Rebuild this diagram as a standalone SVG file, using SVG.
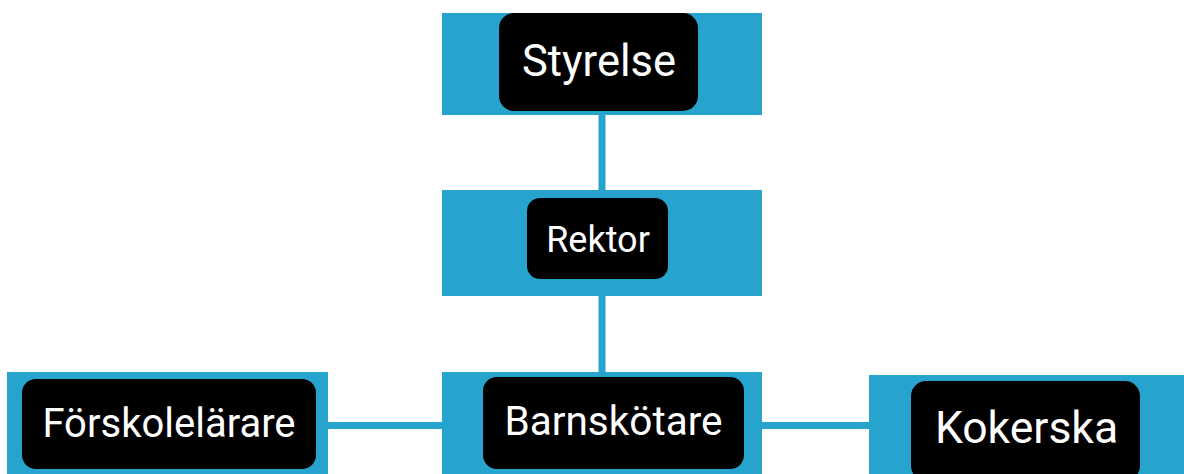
<svg xmlns="http://www.w3.org/2000/svg" width="1184" height="474" viewBox="0 0 1184 474">
<style>
.bg{fill:#27a4cd}
.lbl{fill:#000}
.t{fill:#fff;font-family:Roboto,"Liberation Sans",sans-serif;text-anchor:middle}
.c{stroke:#27a4cd;stroke-width:7;fill:none}
</style>
<rect width="1184" height="474" fill="#fff"/>
<g id="connectors">
<line class="c" x1="602" y1="114" x2="602" y2="191"/>
<line class="c" x1="602" y1="295" x2="602" y2="373"/>
<line class="c" x1="327" y1="425.5" x2="443" y2="425.5"/>
<line class="c" x1="761" y1="425.5" x2="870" y2="425.5"/>
</g>
<g id="styrelse">
<rect class="bg" x="442" y="13" width="320" height="102"/>
<rect class="lbl" x="499" y="13" width="199" height="98" rx="15"/>
<text class="t" x="599" y="75.5" font-size="43.5">Styrelse</text>
</g>
<g id="rektor">
<rect class="bg" x="442" y="190" width="320" height="106"/>
<rect class="lbl" x="527" y="198" width="141" height="81" rx="13"/>
<text class="t" x="598" y="252" font-size="36">Rektor</text>
</g>
<g id="forskolelarare">
<rect class="bg" x="7" y="372" width="321" height="102"/>
<rect class="lbl" x="22" y="379" width="294" height="90" rx="14"/>
<text class="t" x="169" y="437" font-size="40">Förskolelärare</text>
</g>
<g id="barnskotare">
<rect class="bg" x="442" y="372" width="320" height="102"/>
<rect class="lbl" x="483" y="377" width="261" height="92" rx="14"/>
<text class="t" x="613.5" y="435" font-size="40.5">Barnskötare</text>
</g>
<g id="kokerska">
<rect class="bg" x="869" y="375" width="315" height="99"/>
<rect class="lbl" x="911" y="381" width="229" height="100" rx="15"/>
<text class="t" x="1026.5" y="443" font-size="44.5">Kokerska</text>
</g>
</svg>
